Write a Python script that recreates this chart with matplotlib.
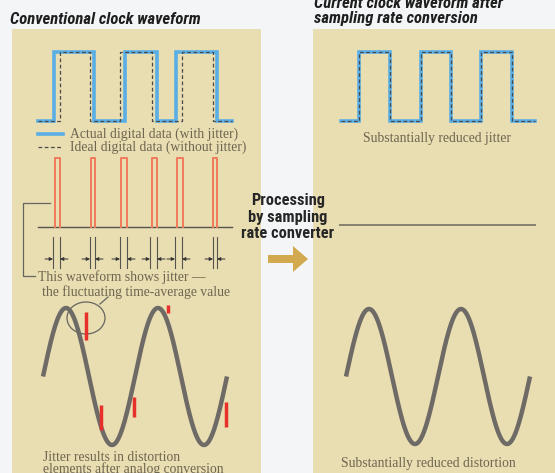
import numpy as np
import matplotlib
matplotlib.use('Agg')
from matplotlib import pyplot as plt
from matplotlib.patches import Rectangle, Ellipse, FancyArrow
from matplotlib import font_manager

# --- data (pixel units of the 555x473 image) ---
# conventional clock: actual (jittered) and ideal edges
actual_rise = [54, 125, 176]
actual_fall = [94, 157, 217]
ideal_rise = [60, 120, 182]
ideal_fall = [90, 152, 213]
left_wave_span = [38, 232]
# after conversion: edges
conv_rise = [359, 421, 481]
conv_fall = [390, 451, 512]
right_wave_span = [341, 535]
wave_low, wave_high = 121, 52

# jitter pulses (left edge, right edge)
pulses = [(55, 60), (91, 95), (121, 127), (152, 157), (177, 183), (213, 217)]
pulse_top, pulse_base = 158, 227
tick_pairs = [(53, 60), (90, 95), (120, 127), (150, 157), (175, 182), (213, 217)]

# analog sine output (start x, end x, mid y, amplitude)
sine_left = (43, 227, 376.5, 68.5)
sine_right = (346, 530, 376.5, 67.5)
# red distortion bars: x, y top, y bottom
dist_x = [86, 101, 134, 168, 226]
dist_top = [312, 405, 397, 305, 402]
dist_bot = [340, 430, 417, 313, 427]

serif = ['Liberation Serif', 'DejaVu Serif']
names = {f.name for f in font_manager.fontManager.ttflist}
cond = [n for n in ('Liberation Sans Narrow', 'DejaVu Sans Condensed',
                    'Roboto Condensed') if n in names]
narrow = cond + ['DejaVu Sans']
txt_col = '#6e6650'
beige = '#e9ddb2'


def square(rises, falls, span):
    xs, ys = [span[0]], [wave_low]
    for r, f in zip(rises, falls):
        xs += [r, r, f, f]
        ys += [wave_low, wave_high, wave_high, wave_low]
    xs.append(span[1]); ys.append(wave_low)
    return xs, ys


fig = plt.figure(figsize=(5.55, 4.73), dpi=100)
fig.patch.set_facecolor('#f3f5f7')
ax = fig.add_axes([0, 0, 1, 1])
ax.set_xlim(0, 555)
ax.set_ylim(473, 0)
ax.axis('off')

# panels
ax.add_patch(Rectangle((12, 29), 249, 450, fc=beige, ec='none'))
ax.add_patch(Rectangle((313, 29), 250, 450, fc=beige, ec='none'))

# titles
tkw = dict(family=narrow, weight='bold', style='italic', stretch='condensed',
           fontsize=12, color='#1e1e1e', va='center')
ax.text(10, 19, 'Conventional clock waveform', **tkw)
ax.text(314, 3, 'Current clock waveform after', **tkw)
ax.text(314, 18, 'sampling rate conversion', **tkw)

# left square waves
xa, ya = square(actual_rise, actual_fall, left_wave_span)
ax.plot(xa, ya, color='#5aaee6', lw=2.6, solid_joinstyle='miter')
xi, yi = square(ideal_rise, ideal_fall, left_wave_span)
ax.plot(xi, yi, color='#4a4a4a', lw=0.9, dashes=(3, 2))

# legend
ax.plot([38, 63], [134, 134], color='#5aaee6', lw=2.6)
ax.plot([38, 63], [147, 147], color='#4a4a4a', lw=0.9, dashes=(3, 2))
skw = dict(family=serif, fontsize=9.8, color=txt_col, va='center')
ax.text(70, 134, 'Actual digital data (with jitter)', **skw)
ax.text(70, 147, 'Ideal digital data (without jitter)', **skw)

# jitter pulses
ax.plot(left_wave_span, [pulse_base, pulse_base], color='#555550', lw=1)
for l, r in pulses:
    ax.plot([l, l, r, r], [pulse_base, pulse_top, pulse_top, pulse_base],
            color='#f07a5a', lw=1.4)

# tick markers
for l, r in tick_pairs:
    for x in (l, r):
        ax.plot([x, x], [237, 268], color='#555550', lw=0.8)
    ax.annotate('', xy=(l, 259), xytext=(l - 8, 259),
                arrowprops=dict(arrowstyle='-|>', color='#333333', lw=0.7,
                                mutation_scale=5, shrinkA=0, shrinkB=0))
    ax.annotate('', xy=(r, 259), xytext=(r + 8, 259),
                arrowprops=dict(arrowstyle='-|>', color='#333333', lw=0.7,
                                mutation_scale=5, shrinkA=0, shrinkB=0))

# bracket
ax.plot([50, 23, 23, 35], [203, 203, 276, 276], color='#666660', lw=0.9)
ax.text(38, 277, 'This waveform shows jitter \u2014', **skw)
ax.text(42, 292, 'the fluctuating time-average value', **skw)

# sine waves
for (x0, x1, ym, amp) in (sine_left, sine_right):
    xs = np.linspace(x0, x1, 400)
    ax.plot(xs, ym - amp * np.sin(2 * np.pi * 2 * (xs - x0) / (x1 - x0)),
            color='#6e6a66', lw=3.2, solid_capstyle='butt')

# distortion bars
for x, t, b in zip(dist_x, dist_top, dist_bot):
    ax.plot([x, x], [t, b], color='#e8302a', lw=2.5, solid_capstyle='butt')

# circle + leader
ax.add_patch(Ellipse((86, 318), 38, 32, fc='none', ec='#666660', lw=0.9))
ax.plot([100, 108], [304, 297], color='#666660', lw=0.9)

ax.text(43, 457, 'Jitter results in distortion', **skw)
ax.text(43, 469, 'elements after analog conversion', **skw)

# middle
ax.text(288, 217, 'Processing\nby sampling\nrate converter', family=narrow,
        weight='bold', stretch='condensed', fontsize=11.8, color='#262626',
        ha='center', va='center', linespacing=1.1)
ax.add_patch(FancyArrow(268, 259, 40, 0, width=8, head_width=26,
                        head_length=15, length_includes_head=True,
                        fc='#d2a94e', ec='none'))

# right square wave
xc, yc = square(conv_rise, conv_fall, right_wave_span)
ax.plot(xc, yc, color='#5aaee6', lw=2.6, solid_joinstyle='miter')
ax.plot(xc, yc, color='#4a4a4a', lw=0.9, dashes=(3, 2))
ax.text(437, 138, 'Substantially reduced jitter', ha='center', **skw)

ax.plot([340, 535], [225, 225], color='#888070', lw=1.4)

ax.text(428, 463, 'Substantially reduced distortion', ha='center', **skw)

fig.savefig('out.png', dpi=100, facecolor=fig.get_facecolor())
